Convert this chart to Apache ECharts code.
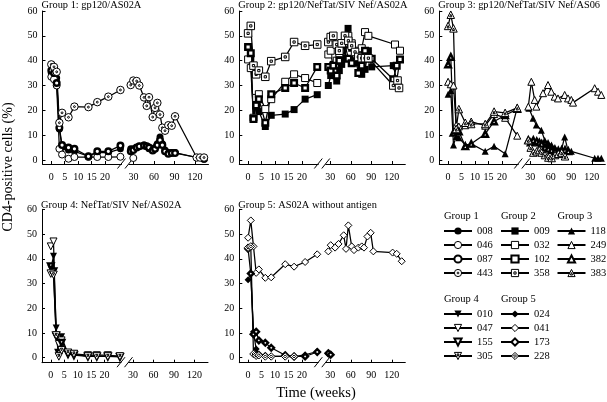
<!DOCTYPE html>
<html><head><meta charset="utf-8">
<script src="https://cdn.jsdelivr.net/npm/echarts@6/dist/echarts.min.js"></script>
<style>html,body{margin:0;padding:0;background:#fff}#c{width:607px;height:402px}</style>
</head><body><div id="c"></div>
<script>
// ---------- ticks ----------
const yTicks = [0, 10, 20, 30, 40, 50, 60];
const xTicksLeft = [0, 5, 10, 15, 20];
const xTicksRight = [30, 60, 90, 120];
// sampling weeks for the early (left, expanded) part of the time axis
const weeksLeft = [0, 1, 2, 3, 4, 6.4, 8.6, 13.8, 17.1, 21.2, 25.7];

// ---------- Group 1 ----------
const s008L = [35, 34, 33, 12.5, 5, 4, 3.5, 1.5, 3, 3, 4.5];
const s008R = [[26,4.5],[29.7,4.5],[34.6,5],[38.5,5.5],[45.4,6],[49.3,5.5],[52.7,4.5],[58.1,4],[61.5,5],[64.9,6.5],[68.8,9.3],[72.2,6.5],[76.1,4],[81,3],[85.9,3],[90.8,3],[133.2,0.3]];
const s046L = [33.5, 32.5, 30, 4.5, 2.2, 0.5, 1.2, 1.2, 1.2, 1.2, 1.3];
const s046R = [[29.7,0.8]];
const s087L = [36, 35, 31, 13, 6, 5, 4.5, 1.5, 3.5, 3.5, 5.8];
const s087R = [[26,3.5],[29.7,4],[34.6,5],[38.5,5.5],[45.4,5.8],[49.3,5.5],[52.7,5],[58.1,3.8],[61.5,4.5],[64.9,6],[68.8,8],[72.2,6],[76.1,3.5],[81,2.5],[85.9,2.8],[90.8,2.8],[133.2,0.5]];
const s443L = [38.5, 37.5, 35.5, 15, 19, 17.2, 21.5, 21.3, 23.3, 25.5, 28.2];
const s443R = [[25.9,30.2],[29.7,32],[34.6,31.8],[38.5,30],[45.4,25.2],[49.3,21.8],[52.7,25.3],[58.1,17.3],[61.5,21],[64.9,23],[68.8,18.3],[72.2,13],[76.1,11.8],[81,14],[85.9,13.8],[90.8,17.6],[122.5,1],[127.4,1],[133.2,1]];

// ---------- Group 2 ----------
const s009L = [45.5, 41, 16.5, 24, 19.5, 13.5, 18, 18.5, 20.3, 24.5, 26.3];
const s009R = [[27.1,30],[30.6,34],[34.4,38.5],[39.4,31.8],[43.2,36],[46.7,38.5],[51.5,41],[56,53],[61.3,45],[66.2,39],[71,43],[76,34.5],[80.8,36.5],[85.7,44],[90.6,37.5],[122.2,38],[127.2,32],[132,40.5]];
const s032L = [40.5, 37, 17, 25, 26.5, 20.5, 24.5, 31.5, 34.5, 33, 31];
const s032R = [[27.1,42.5],[30.6,44],[34.4,36],[39.4,40],[43.2,43],[46.7,46],[51.5,49.5],[56.4,50],[61.3,47],[66.2,44],[71,42],[76,45],[80.8,51.5],[85.7,50],[124.7,46.5],[132,44]];
const s102L = [45.5, 43, 16.5, 22, 24.5, 15, 26.5, 29, 31, 29, 37.5];
const s102R = [[27.1,37.5],[30.6,36],[34.4,38],[39.4,34],[43.2,40],[46.7,44],[51.5,46.5],[56.4,40.8],[61.3,39],[66.2,42],[71,35],[76,38],[80.8,44],[85.7,41],[90.6,40.8],[122.2,32.5],[127.2,38],[132,40.5]];
const s358L = [51, 54, 38, 34.5, 36, 33.5, 39.8, 41.5, 47.5, 46, 46.5];
const s358R = [[27.1,47.5],[30.6,49.5],[34.4,50],[39.4,46.5],[43.2,44],[46.7,47],[51.5,50],[56.4,48],[61.3,46],[66.2,43.5],[71,41.5],[76,41],[80.8,41],[85.7,41],[122.2,30],[128.4,32],[130.6,29]];

// ---------- Group 3 ----------
const s118L = [26.5, 28, 6, 9.5, 9, 6, 6.5, 3.5, 5.5, 2.5, 21];
const s118R = [[28,20.8],[34,16.8],[38.8,14.1],[46.1,12],[51.1,8],[56,7],[61,6],[66,5],[71,4.5],[75.5,4],[80.3,9.3],[85,4],[90,3.5],[124.2,0.7],[129.1,0.7],[133.9,0.7]];
const s249L = [31.5, 30.5, 30, 14, 13.5, 14, 15.5, 13.8, 18.5, 17, 9.8];
const s249R = [[27.1,21.5],[31.5,31.5],[36.4,24.2],[38.8,21.5],[48.6,26.9],[55.9,30.2],[60.7,27.5],[65.7,25.5],[70.5,24.8],[80.3,26.2],[85.2,24.8],[90,24.2],[92.5,23.1],[124.2,28.9],[129.1,27.5],[133.9,26.2]];
const s382L = [38.5, 41.5, 11, 12, 11.5, 5.5, 6.5, 10.5, 15.5, 18, 20.5];
const s382R = [[27.1,8],[30.6,7],[34.4,8],[39.4,7.5],[43.2,7],[46.7,6.5],[51.5,5],[56.4,4.5],[61.3,4],[66.2,3.5],[71,3],[76,4],[80.8,4],[85.7,3.5]];
const s383L = [54, 58.5, 53, 12.5, 20.5, 15, 14.5, 14.5, 19.5, 19, 21];
const s383R = [[27.1,8],[30.6,5],[34.4,3],[39.4,3.5],[43.2,4],[46.7,3],[51.5,2],[56.4,1],[61.3,0.8],[66.2,2],[71,2.5],[76,3],[80.8,1.5]];

// ---------- Group 4 ----------
const s010L = [36, 41, 12, 1, 8.5, 1.5, 1, 0.8, 0.5, 0.5, 0.5];
const s047L = [45, 47, 8.5, 5.5, 7, 1.5, 1.5, 1, 1, 1, 0.5];
const s155L = [37, 35, 9, 2, 6, 1.5, 1, 0.5, 0.5, 0.5, 0.3];
const s305L = [34, 33.5, 9, 0.5, 3, 2, 1.5, 0.5, 0.5, 0.5, 0.5];

// ---------- Group 5 ----------
const s024L = [31.5, 34, 10.5, 3.5, 1.5, 1, 0.5, 0.5, 0.3, 1.2, 2.5];
const s024R = [[27.1,1.5],[30.6,1.2]];
const s041L = [48.5, 55.5, 45, 34.3, 35.7, 32.3, 32.5, 37.8, 36.8, 38.7, 41.8];
const s041R = [[27.1,43],[30.6,45.5],[37,44.5],[42,46],[49.6,49.5],[53,44],[56.4,53.5],[61.3,45],[64.7,43.5],[71,44.5],[76,45],[79.3,44.5],[84.3,49],[89.1,50.5],[93,43],[121.2,42.5],[127.2,42],[134.5,39]];
const s173L = [44, 34, 9.5, 10.5, 7, 6, 4, 1, 0.5, 0.5, 2.3];
const s173R = [[27.1,1.8],[30.6,1.2]];
const s228L = [44.5, 45, 1.5, 0.8, 1, 0.5, 0.5, 0.5, 0.5];

const panelTitles = ['Group 1: gp120/AS02A', 'Group 2: gp120/NefTat/SIV Nef/AS02A', 'Group 3: gp120/NefTat/SIV Nef/AS06', 'Group 4: NefTat/SIV Nef/AS02A', 'Group 5: AS02A without antigen'];
const groupNames = ['Group 1', 'Group 2', 'Group 3', 'Group 4', 'Group 5'];

// name, panel, shape, kind, left values, right [week,value] pairs
const SUBJECTS = [
  ['008',0,'circle','fill',s008L,s008R], ['046',0,'circle','open',s046L,s046R], ['087',0,'circle','ring',s087L,s087R], ['443',0,'circleDot','dot',s443L,s443R],
  ['009',1,'rect','fill',s009L,s009R], ['032',1,'rect','open',s032L,s032R], ['102',1,'rect','ring',s102L,s102R], ['358',1,'rectDot','dot',s358L,s358R],
  ['118',2,'triangle','fill',s118L,s118R], ['249',2,'triangle','open',s249L,s249R], ['382',2,'triangle','ring',s382L,s382R], ['383',2,'triDot','dot',s383L,s383R],
  ['010',3,'down','fill',s010L,null], ['047',3,'down','open',s047L,null], ['155',3,'down','ring',s155L,null], ['305',3,'downDot','dot',s305L,null],
  ['024',4,'diamond','fill',s024L,s024R], ['041',4,'diamond','open',s041L,s041R], ['173',4,'diamond','ring',s173L,s173R], ['228',4,'diamondDot','dot',s228L,null]
];

// ---------- styling / layout ----------
const FONT = '"Liberation Serif", "DejaVu Serif", serif';
const SHAPE = {
  circle: 'circle',
  circleDot: 'path://M0,10A10,10,0,1,1,20,10A10,10,0,1,1,0,10ZM7.5,10A2.5,2.5,0,1,1,12.5,10A2.5,2.5,0,1,1,7.5,10Z',
  rect: 'rect',
  rectDot: 'path://M0,0L20,0L20,20L0,20ZM7,7L13,7L13,13L7,13Z',
  triangle: 'triangle',
  triDot: 'path://M10,0L20,18L0,18ZM10,8L13,14L7,14Z',
  down: 'path://M0,0L20,0L10,18Z',
  downDot: 'path://M0,0L20,0L10,18ZM7,4L13,4L10,10Z',
  diamond: 'diamond',
  diamondDot: 'path://M10,0L20,10L10,20L0,10ZM10,6L14,10L10,14L6,10Z'
};
const KIND = {
  fill: {size: 7, style: {color: '#000', borderWidth: 0}, legendBorder: 0},
  open: {size: 7, style: {color: '#fff', borderColor: '#000', borderWidth: 1}, legendBorder: 1},
  ring: {size: 5.6, style: {color: '#fff', borderColor: '#000', borderWidth: 2.4}, legendBorder: 2},
  dot: {size: 7.5, style: {color: '#fff', borderColor: '#000', borderWidth: 1}, legendBorder: 1}
};
const PANELS = [
  {x0: 42.5, top: 11, bottom: 164, ymin: -1.61},
  {x0: 239.3, top: 11, bottom: 164, ymin: -1.61},
  {x0: 439.3, top: 11, bottom: 164, ymin: -1.61},
  {x0: 42, top: 209.3, bottom: 362.7, ymin: -2.02},
  {x0: 239.3, top: 209.3, bottom: 362.7, ymin: -2.02}
];
const LEFT_W = 79, RIGHT_OFF = 86.5, RIGHT_W = 79.5;
const LEFT_RANGE = [-3.27, 26.1], RIGHT_RANGE = [23.41, 139.76];

const grids = [], xAxes = [], yAxes = [], series = [], graphics = [];
const tickFont = {fontFamily: FONT, fontSize: 10, color: '#000'};
const axLine = {show: true, onZero: false, lineStyle: {color: '#000', width: 1}};

PANELS.forEach((p, i) => {
  const h = p.bottom - p.top;
  grids.push({left: p.x0, top: p.top, width: LEFT_W, height: h});
  grids.push({left: p.x0 + RIGHT_OFF, top: p.top, width: RIGHT_W, height: h});
  xAxes.push({gridIndex: 2*i, type: 'value', min: LEFT_RANGE[0], max: LEFT_RANGE[1], axisLine: axLine,
    axisTick: {show: true, inside: true, length: 3, customValues: xTicksLeft, lineStyle: {color: '#000'}},
    axisLabel: Object.assign({customValues: xTicksLeft, margin: 8}, tickFont), splitLine: {show: false}});
  xAxes.push({gridIndex: 2*i+1, type: 'value', min: RIGHT_RANGE[0], max: RIGHT_RANGE[1], axisLine: axLine,
    axisTick: {show: true, inside: true, length: 3, customValues: xTicksRight, lineStyle: {color: '#000'}},
    axisLabel: Object.assign({customValues: xTicksRight, margin: 8}, tickFont), splitLine: {show: false}});
  yAxes.push({gridIndex: 2*i, type: 'value', min: p.ymin, max: 60, axisLine: axLine,
    axisTick: {show: true, inside: true, length: 3, customValues: yTicks, lineStyle: {color: '#000'}},
    axisLabel: Object.assign({customValues: yTicks, margin: 5}, tickFont), splitLine: {show: false}});
  yAxes.push({gridIndex: 2*i+1, type: 'value', min: p.ymin, max: 60, show: false});
  // panel title
  graphics.push({type: 'text', x: p.x0 - 1, y: p.top < 100 ? 0.5 : 199.8,
    style: {text: panelTitles[i], font: '10.4px ' + FONT, fill: '#000', align: 'left', verticalAlign: 'top'}});
  // axis break marks
  [75, 82.5].forEach(dx => graphics.push({type: 'line',
    shape: {x1: p.x0 + dx, y1: p.bottom + 4.5, x2: p.x0 + dx + 8, y2: p.bottom - 5.5},
    style: {stroke: '#000', lineWidth: 1}}));
});

SUBJECTS.forEach(([name, panel, shape, kind, left, right]) => {
  const k = KIND[kind];
  const base = {type: 'line', name, symbol: SHAPE[shape], symbolSize: k.size,
    itemStyle: Object.assign({}, k.style), lineStyle: {color: '#000', width: 1.25},
    clip: false, animation: false, emphasis: {disabled: true}};
  series.push(Object.assign({}, base, {xAxisIndex: 2*panel, yAxisIndex: 2*panel,
    data: left.map((v, j) => [weeksLeft[j], v])}));
  if (right) series.push(Object.assign({}, base, {xAxisIndex: 2*panel+1, yAxisIndex: 2*panel+1, data: right}));
});

const LEG_POS = [[443, 225.5], [500, 225.5], [556.5, 225.5], [443, 308.5], [500, 308.5]];
const legends = LEG_POS.map((pos, g) => ({
  orient: 'vertical', left: pos[0], top: pos[1], padding: 0, itemWidth: 28, itemHeight: 9, itemGap: 3,
  selectedMode: false,
  textStyle: {fontFamily: FONT, fontSize: 10.5, color: '#000', lineHeight: 11},
  data: SUBJECTS.filter(s => s[1] === g).map(s => ({name: s[0], itemStyle: {borderWidth: KIND[s[3]].legendBorder}}))
}));
LEG_POS.forEach((pos, g) => graphics.push({type: 'text', x: pos[0] + 1, y: pos[1] - 14.8,
  style: {text: groupNames[g], font: '10.5px ' + FONT, fill: '#000', align: 'left', verticalAlign: 'top'}}));

graphics.push({type: 'text', x: 8, y: 167, rotation: Math.PI / 2,
  style: {text: 'CD4-positive cells (%)', font: '14px ' + FONT, fill: '#000', align: 'center', verticalAlign: 'middle'}});
graphics.push({type: 'text', x: 316, y: 393.5,
  style: {text: 'Time (weeks)', font: '14.5px ' + FONT, fill: '#000', align: 'center', verticalAlign: 'middle'}});

const chart = echarts.init(document.getElementById('c'), null, {renderer: 'canvas'});
chart.setOption({
  animation: false, backgroundColor: '#fff',
  grid: grids, xAxis: xAxes, yAxis: yAxes, series, legend: legends, graphic: graphics
});
</script></body></html>
